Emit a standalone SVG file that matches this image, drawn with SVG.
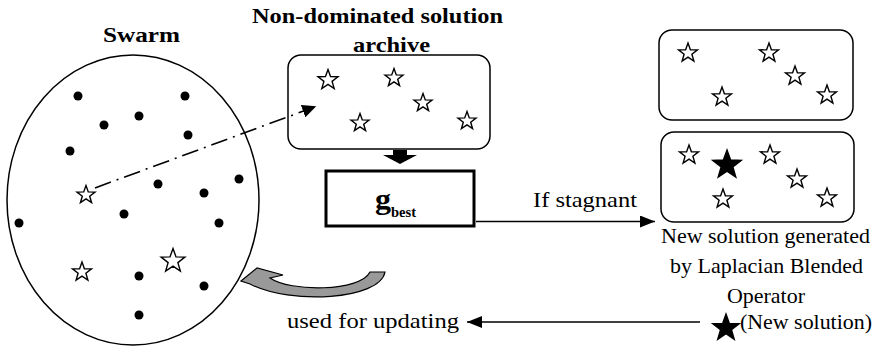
<svg xmlns="http://www.w3.org/2000/svg" xmlns:xlink="http://www.w3.org/1999/xlink" width="878" height="346" viewBox="0 0 878 346">
<style>
text{font-family:"Liberation Serif","Times New Roman","DejaVu Serif",serif;fill:#000}
.title{font-weight:bold;font-size:21px}
.lbl{font-size:21px}
.lbl24{font-size:22px}
.box{fill:#fff;stroke:#000;stroke-width:1.5}
.dot{fill:#000}
.ostar{fill:#fff;stroke:#000}
.fstar{fill:#000;stroke:#000}
.conn{stroke:#000;stroke-width:1.6;fill:none}
</style>
<defs>
<path id="star" vector-effect="non-scaling-stroke" stroke-width="1.4" stroke-linejoin="miter" d="M0,-10 L2.4,-3.3 L9.51,-3.09 L3.9,1.27 L5.88,8.09 L0,4.1 L-5.88,8.09 L-3.9,1.27 L-9.51,-3.09 L-2.4,-3.3 Z"/>
<marker id="ah" markerWidth="15" markerHeight="12" refX="15" refY="6" orient="auto" markerUnits="userSpaceOnUse">
<path d="M0,0 L15,6 L0,12 Z" fill="#000"/>
</marker>
<marker id="ahd" markerWidth="14" markerHeight="13" refX="2" refY="6.5" orient="auto" markerUnits="userSpaceOnUse">
<path d="M0,0 L14,6.5 L0,13 Z" fill="#000"/>
</marker>
</defs>
<rect width="878" height="346" fill="#fff"/>

<g id="swarm">
<text class="title" x="103" y="42" textLength="77" lengthAdjust="spacingAndGlyphs">Swarm</text>
<ellipse cx="133" cy="200" rx="126" ry="145" fill="#fff" stroke="#000" stroke-width="1.5"/>
<circle class="dot" cx="78" cy="96" r="4.5"/>
<circle class="dot" cx="185" cy="96" r="4.5"/>
<circle class="dot" cx="139" cy="116" r="4.5"/>
<circle class="dot" cx="104" cy="125" r="4.5"/>
<circle class="dot" cx="188" cy="135" r="4.5"/>
<circle class="dot" cx="70" cy="151" r="4.5"/>
<circle class="dot" cx="239" cy="179" r="4.5"/>
<circle class="dot" cx="158" cy="184" r="4.5"/>
<circle class="dot" cx="204" cy="193" r="4.5"/>
<circle class="dot" cx="124" cy="214" r="4.5"/>
<circle class="dot" cx="19" cy="223" r="4.5"/>
<circle class="dot" cx="219" cy="223" r="4.5"/>
<circle class="dot" cx="139" cy="276" r="4.5"/>
<circle class="dot" cx="204" cy="286" r="4.5"/>
<circle class="dot" cx="139" cy="315" r="4.5"/>
<use xlink:href="#star" class="ostar" transform="translate(86,195) scale(0.95)"/>
<use xlink:href="#star" class="ostar" transform="translate(82,272) scale(1)"/>
<use xlink:href="#star" class="ostar" transform="translate(173,261) scale(1.25)"/>
</g>

<g id="archive">
<text class="title" x="252" y="23" textLength="251" lengthAdjust="spacingAndGlyphs">Non-dominated solution</text>
<text class="title" x="353" y="52" textLength="77" lengthAdjust="spacingAndGlyphs">archive</text>
<rect class="box" x="288" y="55" width="202" height="94" rx="13"/>
<use xlink:href="#star" class="ostar" transform="translate(328,80) scale(1.05)"/>
<use xlink:href="#star" class="ostar" transform="translate(394,78) scale(0.95)"/>
<use xlink:href="#star" class="ostar" transform="translate(423,103) scale(0.95)"/>
<use xlink:href="#star" class="ostar" transform="translate(360,123) scale(0.95)"/>
<use xlink:href="#star" class="ostar" transform="translate(467,121) scale(0.95)"/>
</g>

<g id="gbest">
<rect x="326" y="171" width="148" height="55" fill="#fff" stroke="#000" stroke-width="3"/>
<text class="title" x="375" y="209" style="font-size:29px" textLength="16" lengthAdjust="spacingAndGlyphs">g</text>
<text class="title" x="391" y="217" style="font-size:14px" textLength="25" lengthAdjust="spacingAndGlyphs">best</text>
</g>

<g id="archive-before">
<rect class="box" x="659" y="30" width="194" height="90" rx="13"/>
<use xlink:href="#star" class="ostar" transform="translate(688,53)"/>
<use xlink:href="#star" class="ostar" transform="translate(769,53)"/>
<use xlink:href="#star" class="ostar" transform="translate(795,76)"/>
<use xlink:href="#star" class="ostar" transform="translate(722,97)"/>
<use xlink:href="#star" class="ostar" transform="translate(827,95)"/>
</g>

<g id="archive-after">
<rect class="box" x="661" y="132" width="193" height="90" rx="13"/>
<use xlink:href="#star" class="ostar" transform="translate(689,155)"/>
<use xlink:href="#star" class="fstar" transform="translate(727,165) scale(1.5)"/>
<use xlink:href="#star" class="ostar" transform="translate(770,155)"/>
<use xlink:href="#star" class="ostar" transform="translate(797,179)"/>
<use xlink:href="#star" class="ostar" transform="translate(723,199)"/>
<use xlink:href="#star" class="ostar" transform="translate(827,198)"/>
<text class="lbl" x="661" y="243" textLength="209" lengthAdjust="spacingAndGlyphs">New solution generated</text>
<text class="lbl" x="670" y="273" textLength="193" lengthAdjust="spacingAndGlyphs">by Laplacian Blended</text>
<text class="lbl" x="727" y="303" textLength="78" lengthAdjust="spacingAndGlyphs">Operator</text>
</g>

<g id="new-solution">
<use xlink:href="#star" class="fstar" transform="translate(726,328) scale(1.4)"/>
<text class="lbl" x="740" y="329" textLength="132" lengthAdjust="spacingAndGlyphs">(New solution)</text>
</g>

<g id="connectors">
<line class="conn" x1="95" y1="188" x2="305" y2="110.5" stroke-dasharray="17 6 2 6" marker-end="url(#ahd)"/>
<polygon points="393,150 407,150 407,155 417,155 400,164 383,155 393,155" fill="#000"/>
<line class="conn" x1="476" y1="221.5" x2="655" y2="221.5" marker-end="url(#ah)"/>
<text class="lbl24" x="533" y="207" textLength="104" lengthAdjust="spacingAndGlyphs">If stagnant</text>
<line class="conn" x1="700" y1="322" x2="467" y2="322" marker-end="url(#ah)"/>
<text class="lbl24" x="287" y="328" textLength="172" lengthAdjust="spacingAndGlyphs">used for updating</text>
<path d="M241,281 L257,268 L283,275 L270,278 C290,292 360,292 370,272 L385,272 C380,300 290,305 250,284 Z" fill="#999" stroke="#000" stroke-width="1.2" stroke-linejoin="miter"/>
</g>
</svg>
